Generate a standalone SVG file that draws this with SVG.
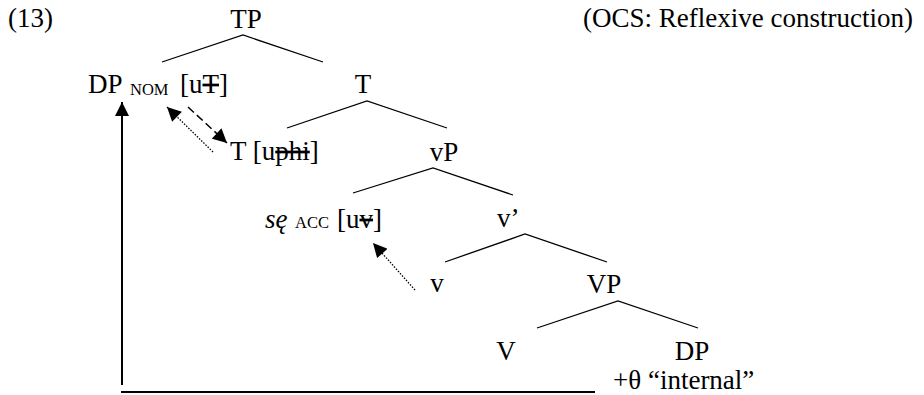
<svg xmlns="http://www.w3.org/2000/svg" width="924" height="395" viewBox="0 0 924 395">
<defs>
<style>
text{font-family:"Liberation Serif","Times New Roman",serif;font-size:27px;fill:#000}
.sc{font-size:16.5px}
.it{font-style:italic}
.st{text-decoration:line-through}
.br{stroke:#000;stroke-width:1.3;fill:none}
.ar{stroke:#000;fill:none}
</style>
<marker id="ah" viewBox="0 0 10 10" refX="10" refY="5" markerWidth="15" markerHeight="14" markerUnits="userSpaceOnUse" orient="auto"><path d="M0,0L10,5L0,10z" fill="#000"/></marker>
</defs>
<rect width="924" height="395" fill="#fff"/>
<g id="label"><text x="8" y="27">(13)</text></g>
<g id="caption"><text x="913" y="27" text-anchor="end">(OCS: Reflexive construction)</text></g>
<g id="n-TP"><text x="246" y="28" text-anchor="middle">TP</text></g>
<g id="n-DPnom"><text x="88" y="93">DP<tspan class="sc" x="130" dy="2">NOM</tspan><tspan x="180" dy="-2">[u</tspan><tspan class="st">T</tspan>]</text></g>
<g id="n-Tbar"><text x="363" y="93" text-anchor="middle">T</text></g>
<g id="n-T"><text x="230" y="160">T [u<tspan class="st">phi</tspan>]</text></g>
<g id="n-vP"><text x="444" y="161" text-anchor="middle">vP</text></g>
<g id="n-se"><text x="265" y="228"><tspan class="it">sę</tspan><tspan class="sc" x="295">ACC</tspan><tspan x="337">[u</tspan><tspan class="st">v</tspan>]</text></g>
<g id="n-vbar"><text x="497" y="227">v’</text></g>
<g id="n-v"><text x="437" y="292" text-anchor="middle">v</text></g>
<g id="n-VP"><text x="604" y="293" text-anchor="middle">VP</text></g>
<g id="n-V"><text x="506" y="360" text-anchor="middle">V</text></g>
<g id="n-DP"><text x="692" y="360" text-anchor="middle">DP</text><text x="613" y="389">+θ “internal”</text></g>
<g id="connectors">
<path class="br" d="M162,62L243,35L323,62"/>
<path class="br" d="M287,128L367,101L447,128"/>
<path class="br" d="M353,193L433,168L513,195"/>
<path class="br" d="M445,262L525,234L607,262"/>
<path class="br" d="M537,328L618,301L698,328"/>
<line class="ar" x1="188" y1="107" x2="227" y2="143" stroke-width="1.5" stroke-dasharray="8,4" marker-end="url(#ah)"/>
<line class="ar" x1="213" y1="152" x2="167" y2="107" stroke-width="1.3" stroke-dasharray="1.5,1.5" marker-end="url(#ah)"/>
<line class="ar" x1="415" y1="290" x2="373" y2="243" stroke-width="1.3" stroke-dasharray="1.5,1.5" marker-end="url(#ah)"/>
<line class="ar" x1="122" y1="385" x2="122" y2="102" stroke-width="2" marker-end="url(#ah)"/>
<line class="ar" x1="121" y1="392" x2="595" y2="392" stroke-width="2"/>
</g>
</svg>
